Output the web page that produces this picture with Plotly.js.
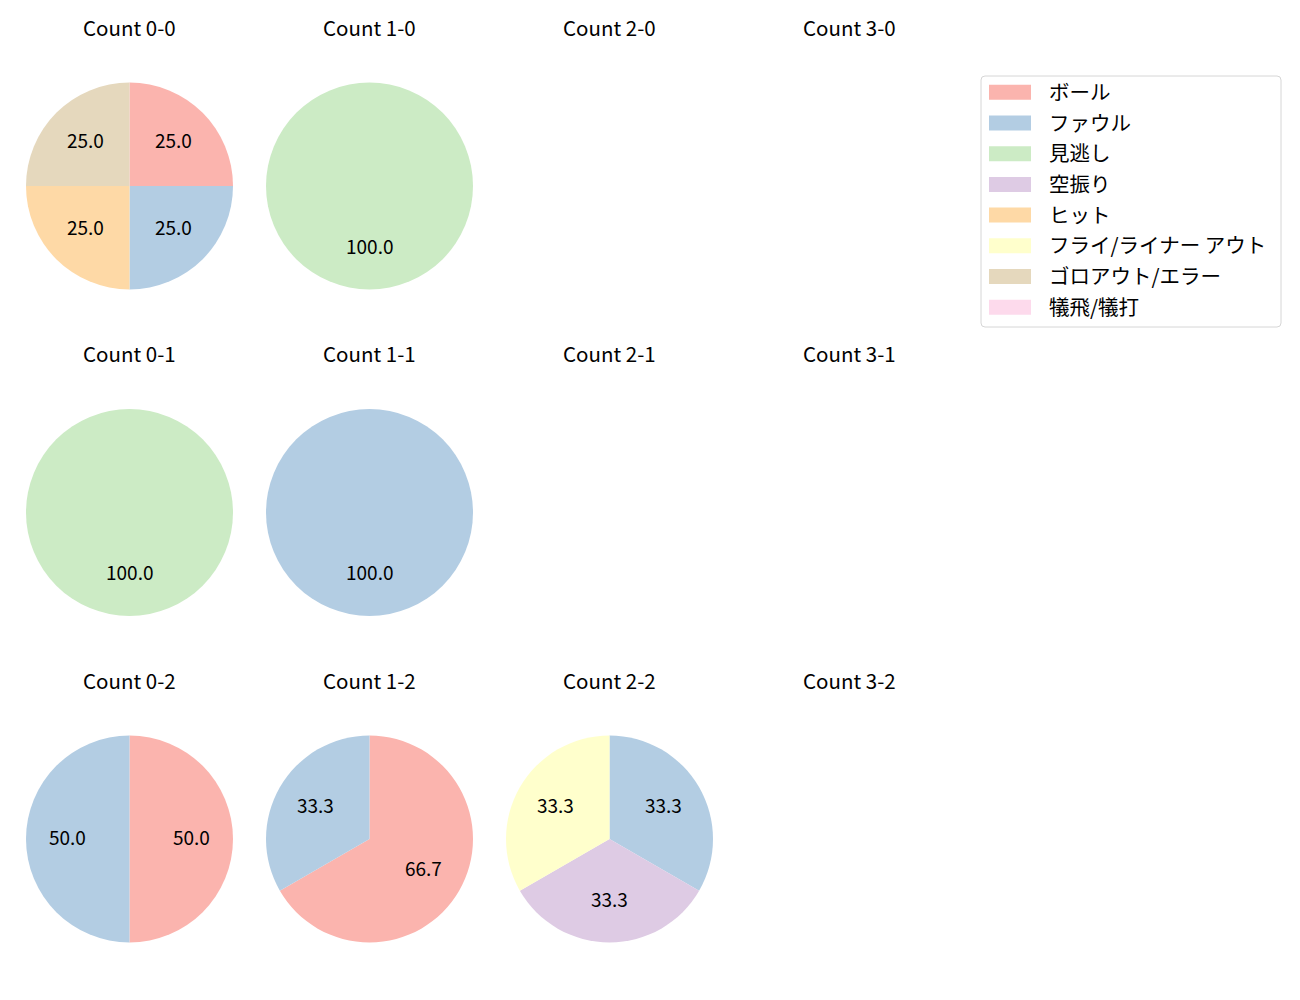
<!DOCTYPE html>
<html>
<head>
<meta charset="utf-8">
<script src="https://cdn.plot.ly/plotly-3.0.1.min.js"></script>
<style>html,body{margin:0;padding:0;background:#fff;}#chart{width:1300px;height:1000px;}</style>
</head>
<body>
<div id="chart"></div>
<script>
// ---- data ----
const categories = ['ボール','ファウル','見逃し','空振り','ヒット','フライ/ライナー アウト','ゴロアウト/エラー','犠飛/犠打'];
const colors = ['#fbb4ae','#b3cde3','#ccebc5','#decbe4','#fed9a6','#ffffcc','#e5d8bd','#fddaec'];
const countTitles = ['Count 0-0','Count 1-0','Count 2-0','Count 3-0',
                     'Count 0-1','Count 1-1','Count 2-1','Count 3-1',
                     'Count 0-2','Count 1-2','Count 2-2','Count 3-2'];
const count00 = [1,1,0,0,1,0,1,0];
const count10 = [0,0,1,0,0,0,0,0];
const count20 = [];
const count30 = [];
const count01 = [0,0,1,0,0,0,0,0];
const count11 = [0,1,0,0,0,0,0,0];
const count21 = [];
const count31 = [];
const count02 = [1,1,0,0,0,0,0,0];
const count12 = [2,1,0,0,0,0,0,0];
const count22 = [0,1,0,1,0,1,0,0];
const count32 = [];
const countValues = [count00,count10,count20,count30,count01,count11,count21,count31,count02,count12,count22,count32];

// ---- layout geometry (pixels) ----
const W = 1300, H = 1000;
const FONT = '"Noto Sans CJK JP", "DejaVu Sans", sans-serif';
const col0 = 129.5, colStep = 240;
const row0 = 186, rowStep = 326.5;
const R = 103.5;
const titleOffset = 157;
const px = x => x / W;
const py = y => 1 - y / H;

const traces = [];
const annotations = [];
const shapes = [];

countValues.forEach((vals, i) => {
  const c = i % 4, r = Math.floor(i / 4);
  const cx = col0 + c * colStep, cy = row0 + r * rowStep;
  annotations.push({
    x: px(cx), y: py(cy - titleOffset), xref: 'paper', yref: 'paper', yshift: 2,
    text: countTitles[i], showarrow: false, xanchor: 'center', yanchor: 'middle',
    font: {family: FONT, size: 20.5, color: '#000'}
  });
  const total = vals.reduce((a, b) => a + b, 0);
  if (!total) return;
  traces.push({
    type: 'pie', values: vals, labels: categories, sort: false,
    direction: 'clockwise', rotation: 0, textinfo: 'none', hoverinfo: 'label+percent',
    marker: {colors: colors, line: {width: 0}}, showlegend: false,
    domain: {x: [px(cx - R), px(cx + R)], y: [py(cy + R), py(cy - R)]}
  });
  let cum = 0;
  vals.forEach(v => {
    if (!v) return;
    const f = v / total;
    const th = Math.PI / 2 - 2 * Math.PI * (cum + f / 2);
    cum += f;
    annotations.push({
      x: px(cx + 0.6 * R * Math.cos(th)), y: py(cy - 0.6 * R * Math.sin(th)),
      xref: 'paper', yref: 'paper', showarrow: false, yshift: 3,
      text: (f * 100).toFixed(1), xanchor: 'center', yanchor: 'middle',
      font: {family: FONT, size: 19, color: '#000'}
    });
  });
});

// ---- legend (drawn from categories / colors) ----
const lx0 = 981, lx1 = 1281, ly0 = 76, ly1 = 327, rr = 4;
shapes.push({
  type: 'path', xref: 'paper', yref: 'paper',
  path: `M${px(lx0+rr)},${py(ly0)} L${px(lx1-rr)},${py(ly0)} Q${px(lx1)},${py(ly0)} ${px(lx1)},${py(ly0+rr)} L${px(lx1)},${py(ly1-rr)} Q${px(lx1)},${py(ly1)} ${px(lx1-rr)},${py(ly1)} L${px(lx0+rr)},${py(ly1)} Q${px(lx0)},${py(ly1)} ${px(lx0)},${py(ly1-rr)} L${px(lx0)},${py(ly0+rr)} Q${px(lx0)},${py(ly0)} ${px(lx0+rr)},${py(ly0)} Z`,
  line: {color: '#d6d6d6', width: 1}, fillcolor: 'rgba(255,255,255,0.8)'
});
categories.forEach((name, k) => {
  const yc = 92.3 + k * 30.7;
  shapes.push({
    type: 'rect', xref: 'paper', yref: 'paper',
    x0: px(989), x1: px(1031), y0: py(yc + 7.5), y1: py(yc - 7.5),
    fillcolor: colors[k], line: {width: 0}
  });
  annotations.push({
    x: px(1047), y: py(yc), xref: 'paper', yref: 'paper', showarrow: false, yshift: 1.5,
    text: name, xanchor: 'left', yanchor: 'middle',
    font: {family: FONT, size: 20.5, color: '#000'}
  });
});

Plotly.newPlot('chart', traces, {
  width: W, height: H, margin: {l: 0, r: 0, t: 0, b: 0},
  paper_bgcolor: '#fff', plot_bgcolor: '#fff', showlegend: false,
  annotations: annotations, shapes: shapes
}, {displayModeBar: false, staticPlot: true});
</script>
</body>
</html>
